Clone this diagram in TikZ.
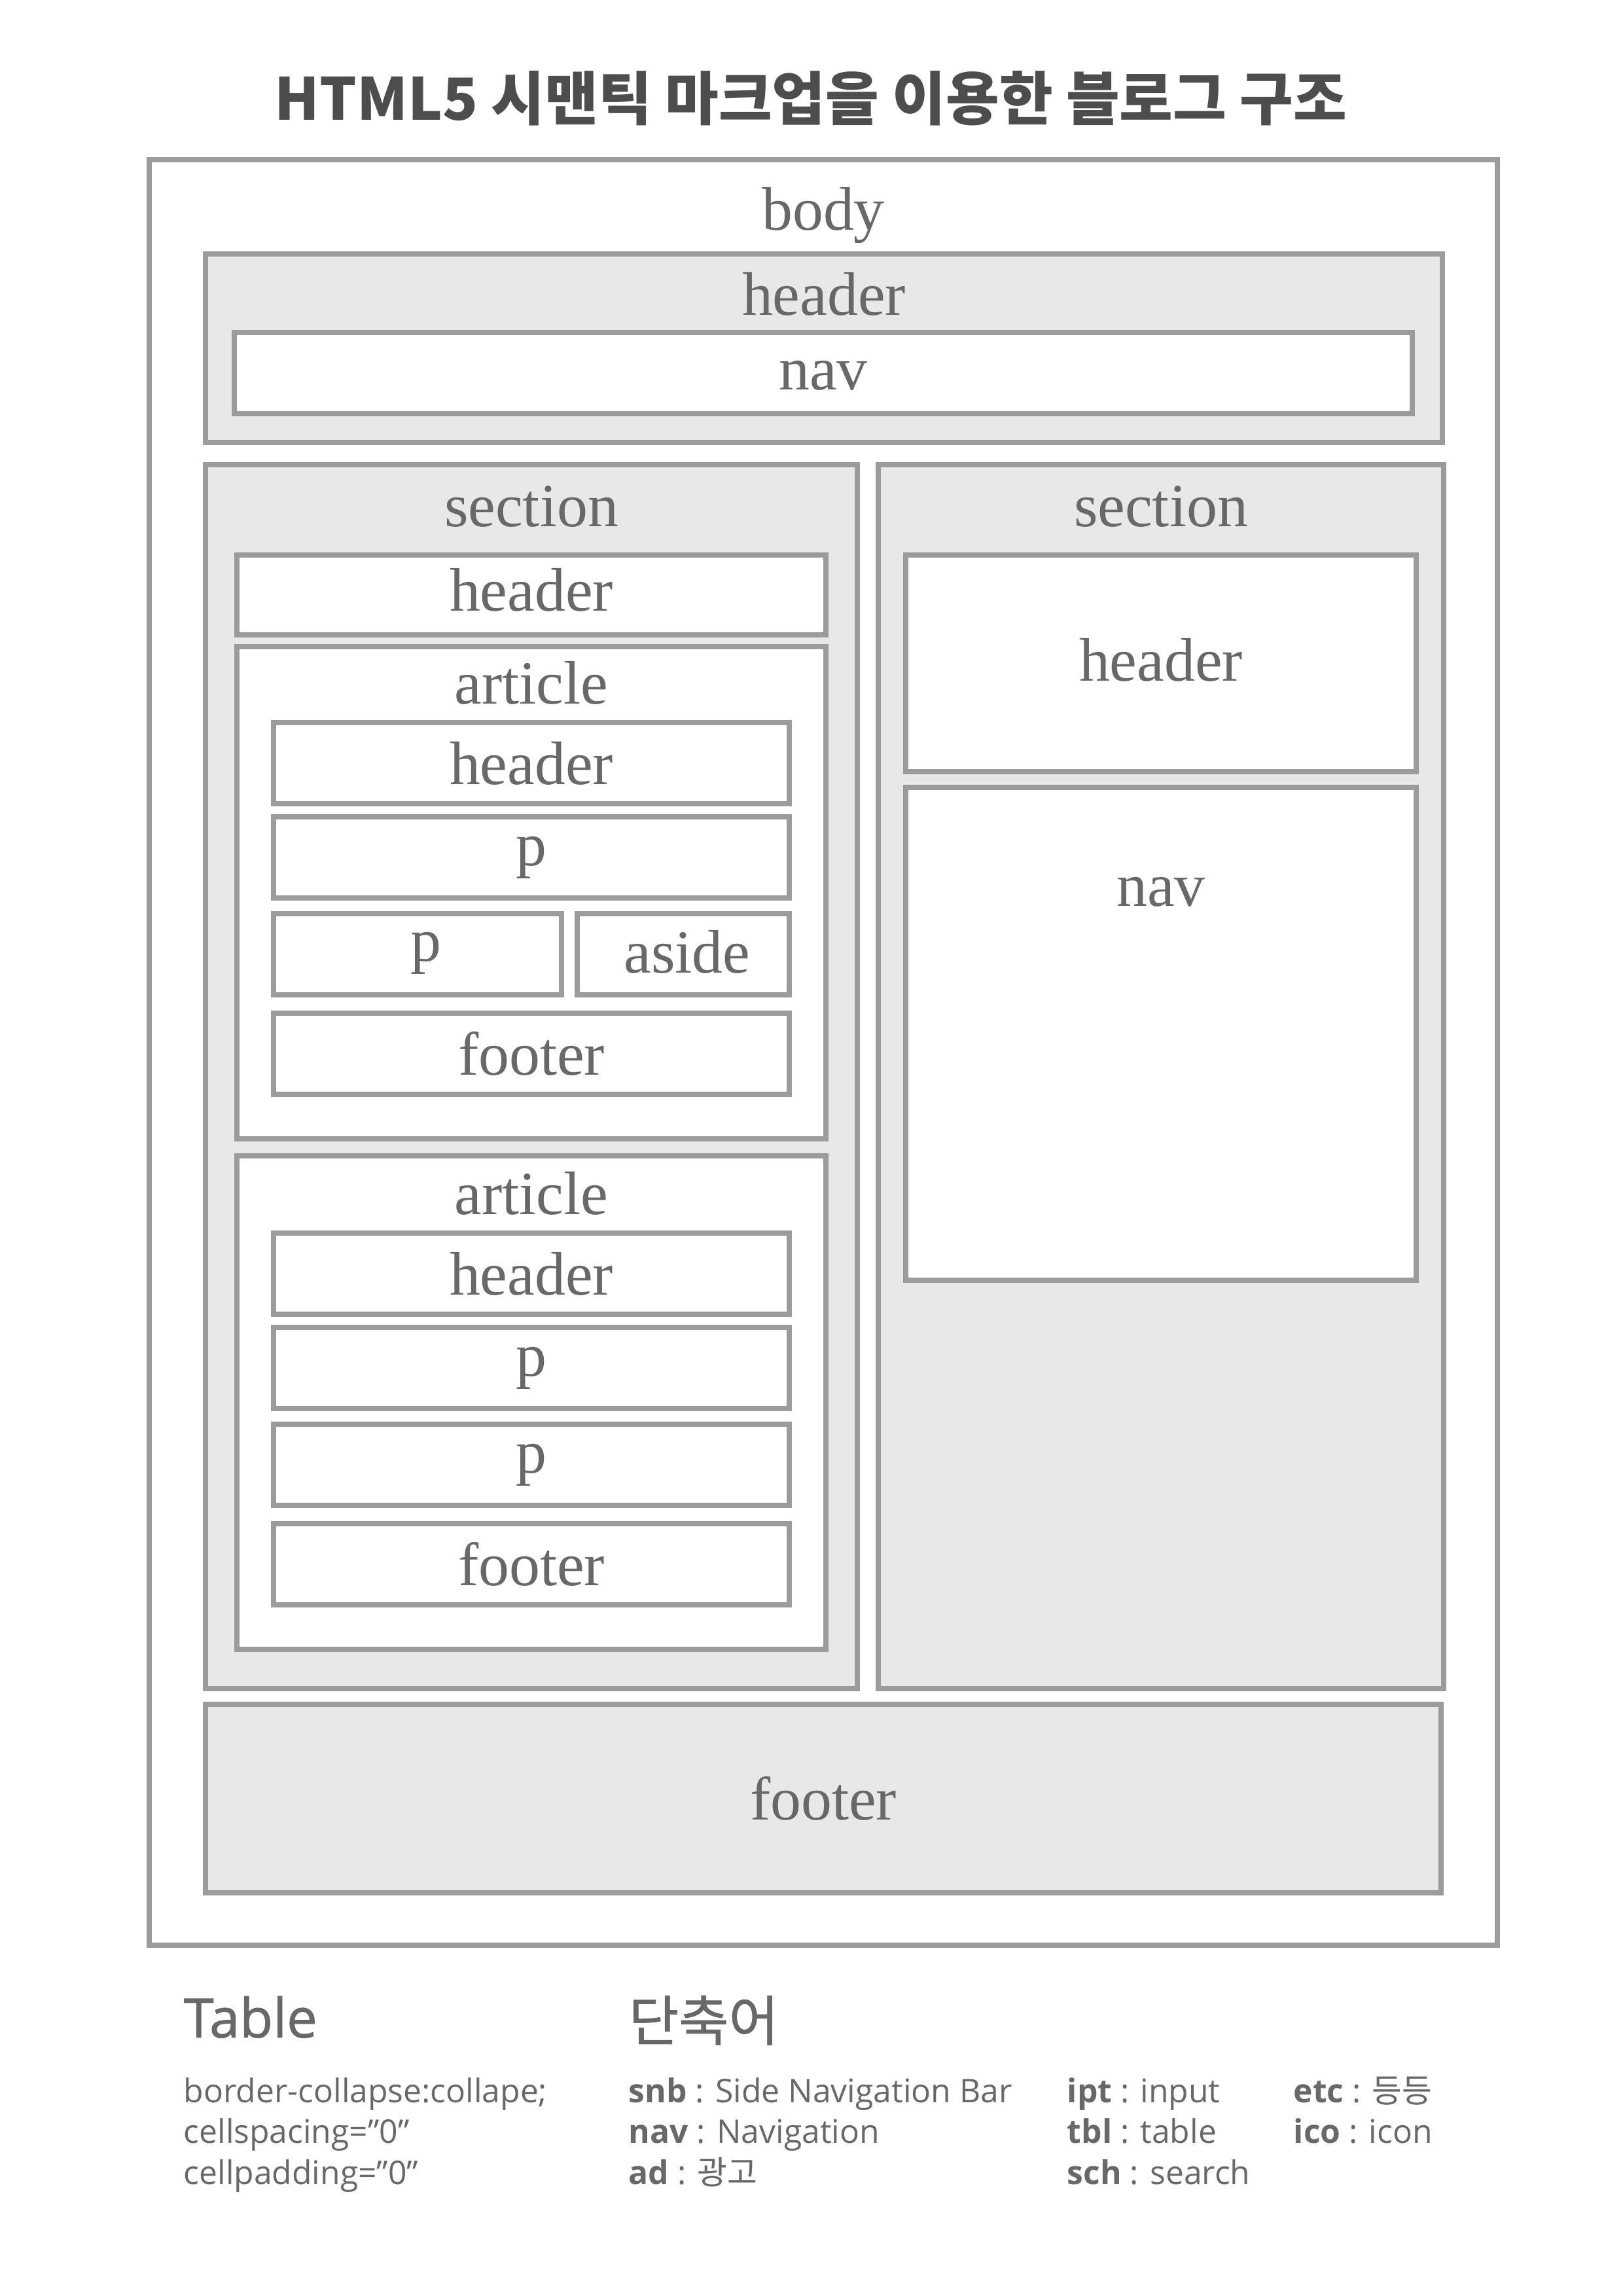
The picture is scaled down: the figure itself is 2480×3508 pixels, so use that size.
\documentclass[tikz,border=0pt]{standalone}
\usepackage{fontspec}
\setmainfont{Liberation Serif}
\newfontfamily\kr{Noto Sans CJK KR}
\newfontfamily\krmed[FakeBold=1.0]{Noto Sans CJK KR}
\newfontfamily\lat{Open Sans}
\newfontfamily\latmed[FakeBold=1.0]{Open Sans}
\usetikzlibrary{fit}
\definecolor{edge}{RGB}{155,155,155}
\definecolor{shade}{RGB}{232,232,232}
\definecolor{txt}{RGB}{104,104,104}
\definecolor{ttl}{RGB}{77,77,77}
\begin{document}
\begin{tikzpicture}[x=0.0846667mm,y=-0.0846667mm,
  box/.style={draw=edge, line width=0.677mm, inner sep=0pt, outer sep=0pt},
  gbox/.style={box, fill=shade},
  wbox/.style={box, fill=white},
  lbl/.style={inner sep=0pt, text=txt, font=\fontsize{22.6}{27}\selectfont},
  note/.style={inner sep=0pt, anchor=base west, text=txt, font=\lat\fontsize{12}{14}\selectfont},
  head/.style={inner sep=0pt, anchor=base west, text=txt, font=\fontsize{20}{24}\selectfont}]
\fill[white] (0,0) rectangle (2480,3508);
\useasboundingbox (0,0) rectangle (2480,3508);

\node[inner sep=0pt, anchor=base, text=ttl, font=\kr\bfseries\fontsize{21.4}{26}\selectfont] (title) at (1239,183) {HTML5 시맨틱 마크업을 이용한 블로그 구조};

% body
\node[wbox, fit={(228,244) (2288,2972)}] (body) {};
\node[lbl] (bodyL) at (1258,329) {body};

% top header
\node[gbox, fit={(314,388) (2204,676)}] (hdr) {};
\node[lbl] (hdrL) at (1259,449) {header};
\node[wbox, fit={(358,508) (2158,632)}] (hnav) {};
\node[lbl] (hnavL) at (1258,574) {nav};

% left section
\node[gbox, fit={(314,710) (1310,2580)}] (lsec) {};
\node[lbl] (lsecL) at (812,774) {section};
\node[wbox, fit={(362,848) (1262,970)}] (lhdr) {};
\node[lbl] (lhdrL) at (812,901) {header};

% article 1
\node[wbox, fit={(362,988) (1262,1740)}] (aone) {};
\node[lbl] (aoneL) at (812,1043) {article};
\node[wbox, fit={(418,1104) (1206,1228)}] (aoneh) {};
\node[lbl] (aonehL) at (812,1166) {header};
\node[wbox, fit={(418,1248) (1206,1372)}] (aonep) {};
\node[lbl] (aonepL) at (812,1310) {p};
\node[wbox, fit={(418,1396) (858,1520)}] (aonepp) {};
\node[lbl] (aoneppL) at (651,1456) {p};
\node[wbox, fit={(882,1396) (1206,1520)}] (aside) {};
\node[lbl] (asideL) at (1050,1454) {aside};
\node[wbox, fit={(418,1548) (1206,1672)}] (aonef) {};
\node[lbl] (aonefL) at (812,1610) {footer};

% article 2
\node[wbox, fit={(362,1766) (1262,2520)}] (atwo) {};
\node[lbl] (atwoL) at (812,1823) {article};
\node[wbox, fit={(418,1884) (1206,2008)}] (atwoh) {};
\node[lbl] (atwohL) at (812,1946) {header};
\node[wbox, fit={(418,2028) (1206,2152)}] (atwop) {};
\node[lbl] (atwopL) at (812,2090) {p};
\node[wbox, fit={(418,2176) (1206,2300)}] (atwopp) {};
\node[lbl] (atwoppL) at (812,2238) {p};
\node[wbox, fit={(418,2328) (1206,2452)}] (atwof) {};
\node[lbl] (atwofL) at (812,2390) {footer};

% right section
\node[gbox, fit={(1342,710) (2206,2580)}] (rsec) {};
\node[lbl] (rsecL) at (1774,774) {section};
\node[wbox, fit={(1384,848) (2164,1179)}] (rhdr) {};
\node[lbl] (rhdrL) at (1774,1008) {header};
\node[wbox, fit={(1384,1203) (2164,1956)}] (rnav) {};
\node[lbl] (rnavL) at (1774,1363) {nav};

% footer
\node[gbox, fit={(314,2604) (2202,2892)}] (foot) {};
\node[lbl] (footL) at (1258,2748) {footer};

% notes
\node[head, font=\latmed\fontsize{20}{24}\selectfont] (tblH) at (280,3113) {Table};
\node[head, font=\krmed\fontsize{20}{24}\selectfont] (abbrH) at (960,3118) {단축어};

\node[note] (nA) at (280,3212) {border-collapse:collape;};
\node[note] (nB) at (280,3274) {cellspacing=”0”};
\node[note] (nC) at (280,3337) {cellpadding=”0”};
\node[note] (sA) at (960,3212) {\textbf{snb} : Side Navigation Bar};
\node[note] (sB) at (960,3274) {\textbf{nav} : Navigation};
\node[note] (sC) at (960,3337) {\textbf{ad} : {\kr 광고}};
\node[note] (iA) at (1630,3212) {\textbf{ipt} : input};
\node[note] (iB) at (1630,3274) {\textbf{tbl} : table};
\node[note] (iC) at (1630,3337) {\textbf{sch} : search};
\node[note] (eA) at (1976,3212) {\textbf{etc} : {\kr 등등}};
\node[note] (eB) at (1976,3274) {\textbf{ico} : icon};
\end{tikzpicture}
\end{document}
